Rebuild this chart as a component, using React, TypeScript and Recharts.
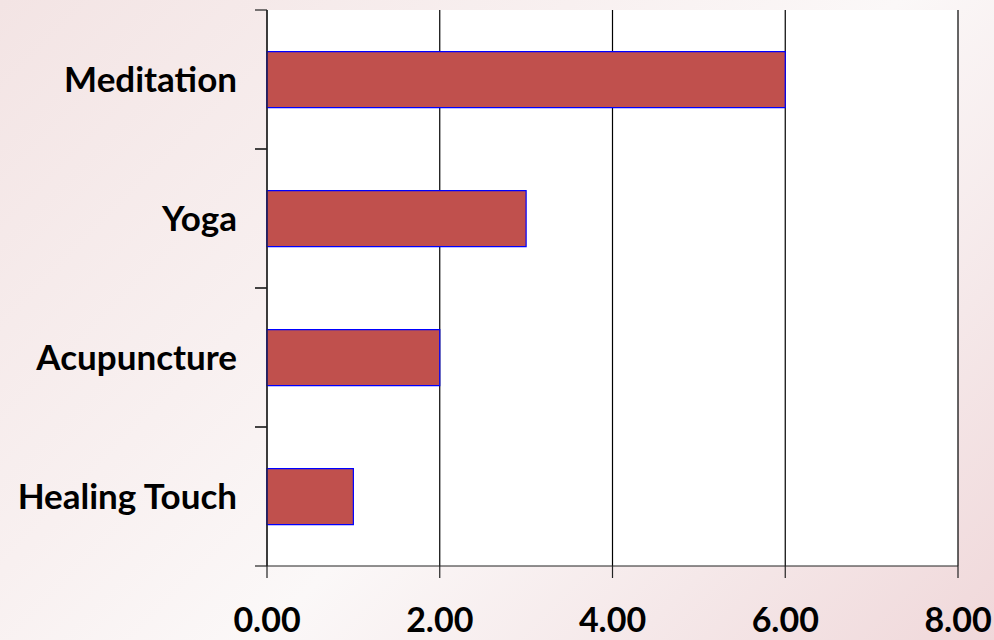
import React from "react";
import { BarChart, Bar, XAxis, YAxis, CartesianGrid } from "recharts";

// Therapy categories, listed top to bottom
const therapies = ["Meditation", "Yoga", "Acupuncture", "Healing Touch"];
// Score for each therapy
const scores = [6, 3, 2, 1];
// Value-axis ticks
const valueTicks = [0, 2, 4, 6, 8];

const data = therapies.map((name, i) => ({ name, score: scores[i] }));

const FONT = "Lato, 'Open Sans', sans-serif";
const CATEGORY_SIZE = 35;
const VALUE_SIZE = 34;

// Category tick: label centred on the band, tick marks on the band edges
const CategoryTick = (props: any) => {
  const { x, y, payload } = props;
  const half = payload && payload.offset ? payload.offset : 0;
  const axisX = x + 12;
  return (
    <g>
      <line x1={axisX - 12} x2={axisX} y1={y - half} y2={y - half} stroke="#222" strokeWidth={1.2} />
      <line x1={axisX - 12} x2={axisX} y1={y + half} y2={y + half} stroke="#222" strokeWidth={1.2} />
      <text
        x={axisX - 30}
        y={y}
        dy="0.36em"
        textAnchor="end"
        fontFamily={FONT}
        fontWeight={700}
        fontSize={CATEGORY_SIZE}
        fill="#000"
      >
        {payload.value}
      </text>
    </g>
  );
};

export default function App() {
  return (
    <div
      style={{
        position: "absolute",
        left: 0,
        top: 0,
        width: 994,
        height: 640,
        background:
          "linear-gradient(135deg, #F3E4E4 0%, #F8F0F0 35%, #FBF8F8 55%, #F5E8E9 78%, #F0D8DA 100%)",
      }}
    >
      <BarChart
        width={994}
        height={640}
        data={data}
        layout="vertical"
        margin={{ top: 10, right: 36, bottom: 0, left: 0 }}
        barCategoryGap="30%"
      >
        <CartesianGrid horizontal={false} vertical={true} stroke="#000" strokeWidth={1.2} fill="#fff" />
        <XAxis
          type="number"
          domain={[0, 8]}
          ticks={valueTicks}
          tickFormatter={(v: number) => v.toFixed(2)}
          height={74}
          tickSize={12}
          tickMargin={30}
          axisLine={{ stroke: "#222", strokeWidth: 1.2 }}
          tickLine={{ stroke: "#222", strokeWidth: 1.2 }}
          tick={{ fontFamily: FONT, fontWeight: 700, fontSize: VALUE_SIZE, fill: "#000" }}
          interval={0}
        />
        <YAxis
          type="category"
          dataKey="name"
          width={267}
          tickLine={false}
          tickSize={12}
          tickMargin={0}
          axisLine={{ stroke: "#222", strokeWidth: 1.2 }}
          tick={<CategoryTick />}
          interval={0}
        />
        <Bar dataKey="score" fill="#C0504D" stroke="#0000FF" strokeWidth={1.2} isAnimationActive={false} />
      </BarChart>
    </div>
  );
}
